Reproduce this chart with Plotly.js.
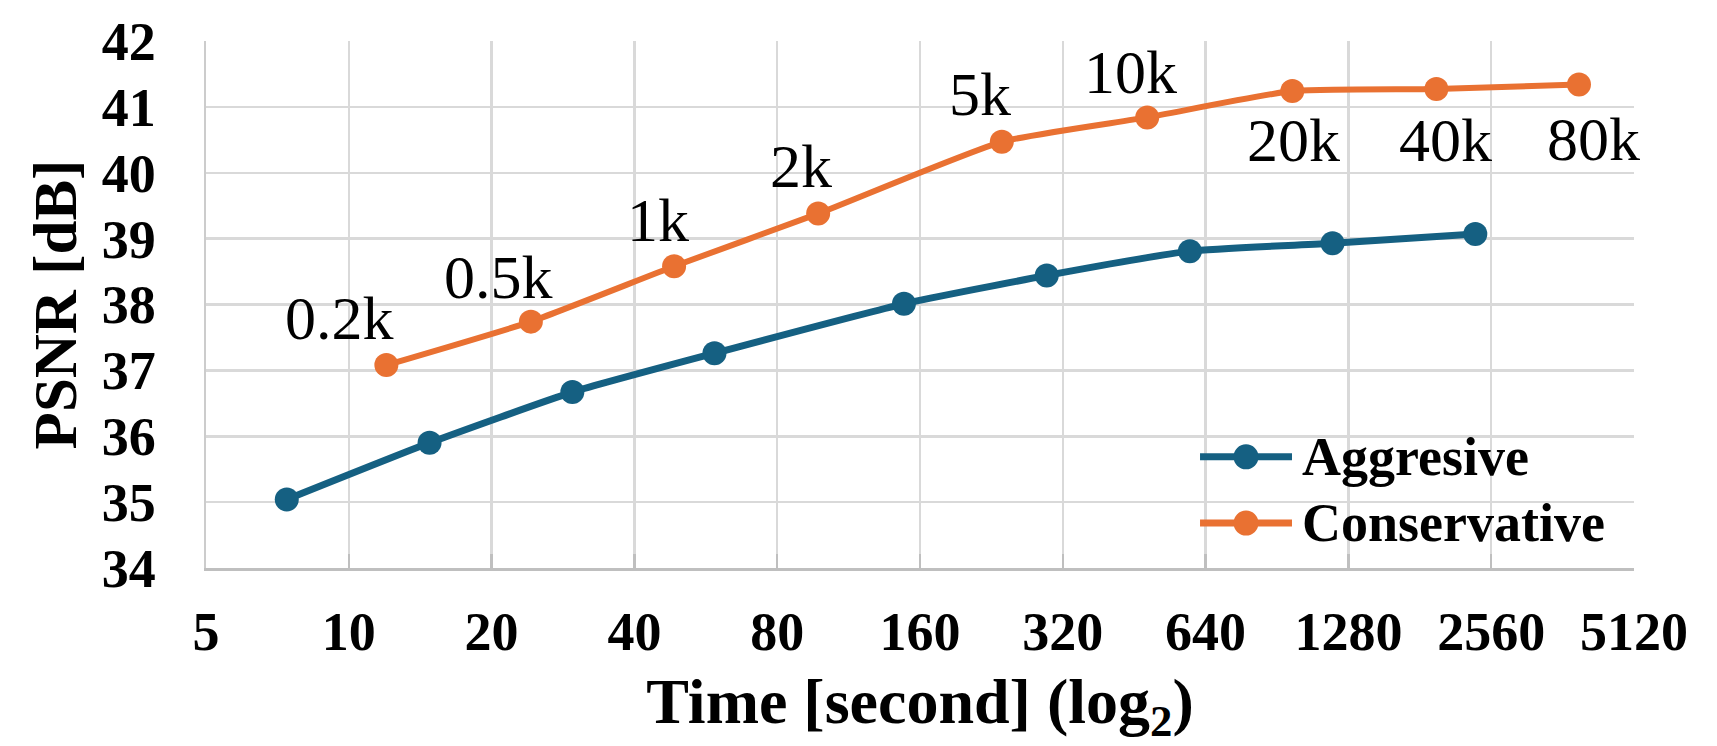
<!DOCTYPE html>
<html>
<head>
<meta charset="utf-8">
<script src="https://cdn.plot.ly/plotly-3.0.1.min.js"></script>
<style>
  html, body { margin: 0; padding: 0; background: #fff; }
  #chart { width: 1717px; height: 746px; }
</style>
</head>
<body>
<div id="chart"></div>
<script>
// values
const seriesNames = ["Aggresive", "Conservative"];

const aggTime = [7.4, 14.8, 29.6, 59, 148, 296, 593, 1185, 2370];
const aggPsnr = [35.04, 35.9, 36.67, 37.26, 38.01, 38.44, 38.81, 38.93, 39.07];

const consTime = [12, 24.2, 48.5, 97.6, 238, 482, 975, 1962, 3920];
const consPsnr = [37.08, 37.74, 38.58, 39.38, 40.47, 40.84, 41.24, 41.27, 41.34];
const consLabels = ["0.2k", "0.5k", "1k", "2k", "5k", "10k", "20k", "40k", "80k"];

const xTicks = [5, 10, 20, 40, 80, 160, 320, 640, 1280, 2560, 5120];

// label placement relative to each point, in pixels
const labelShiftX = [-47, -32, -16, -17, -22, -17, 1, 9, 15];
const labelShiftY = [47, 45, 46, 48, 48, 45, -49, -51, -55];

const BLUE = "#156082";
const ORANGE = "#E97132";
const COLORS = [BLUE, ORANGE];
const FONT = "Liberation Serif, Times New Roman, serif";

const data = [
  {
    x: aggTime,
    y: aggPsnr,
    name: seriesNames[0],
    type: "scatter",
    mode: "lines+markers",
    line: { color: BLUE, width: 7, shape: "spline", smoothing: 0.5 },
    marker: { color: BLUE, size: 24 },
  },
  {
    x: consTime,
    y: consPsnr,
    name: seriesNames[1],
    type: "scatter",
    mode: "lines+markers",
    line: { color: ORANGE, width: 6, shape: "spline", smoothing: 0.5 },
    marker: { color: ORANGE, size: 24 },
  },
];

const annotations = consLabels.map((t, i) => ({
  x: Math.log10(consTime[i]),
  y: consPsnr[i],
  xref: "x",
  yref: "y",
  text: t,
  showarrow: false,
  xshift: labelShiftX[i],
  yshift: labelShiftY[i],
  font: { family: FONT, size: 62, color: "#000" },
}));

// hand-drawn legend (plotly caps legend marker size)
const legRows = [0.211, 0.0853];
const shapes = [
  {
    type: "rect", xref: "paper", yref: "paper", layer: "between",
    x0: 0.6828, x1: 0.995, y0: 0.017, y1: 0.2665,
    fillcolor: "#fff", line: { width: 0 },
  },
];
seriesNames.forEach((name, i) => {
  shapes.push({
    type: "line", xref: "paper", yref: "paper",
    x0: 0.6961, x1: 0.7605, y0: legRows[i], y1: legRows[i],
    line: { color: COLORS[i], width: 7 },
  });
  shapes.push({
    type: "circle", xref: "paper", yref: "paper",
    xsizemode: "pixel", ysizemode: "pixel",
    xanchor: 0.7283, yanchor: legRows[i],
    x0: -12.5, x1: 12.5, y0: -12.5, y1: 12.5,
    fillcolor: COLORS[i], line: { width: 0 },
  });
  annotations.push({
    x: 0.766, y: legRows[i], xref: "paper", yref: "paper",
    xanchor: "left", yanchor: "middle",
    text: "<b>" + name + "</b>", showarrow: false,
    font: { family: FONT, size: 54, color: "#000" },
  });
});

const layout = {
  width: 1717,
  height: 746,
  margin: { l: 206, r: 83, t: 41, b: 178 },
  paper_bgcolor: "#fff",
  plot_bgcolor: "#fff",
  font: { family: FONT, color: "#000" },
  showlegend: false,
  xaxis: {
    type: "log",
    range: [Math.log10(5), Math.log10(5120)],
    tickvals: xTicks,
    ticktext: xTicks.map(String),
    tickfont: { family: FONT, size: 54, color: "#000", weight: "bold" },
    ticks: "inside",
    ticklen: 14,
    tickwidth: 2.5,
    tickcolor: "#BFBFBF",
    ticklabelstandoff: 14,
    showgrid: true,
    gridcolor: "#D9D9D9",
    gridwidth: 2.5,
    showline: true,
    linecolor: "#BFBFBF",
    linewidth: 3,
    zeroline: false,
    fixedrange: true,
    title: {
      text: "Time [second] (log<sub>2</sub>)",
      font: { family: FONT, size: 64, color: "#000", weight: "bold" },
      standoff: 36,
    },
  },
  yaxis: {
    range: [34, 42],
    dtick: 1,
    tickfont: { family: FONT, size: 54, color: "#000", weight: "bold" },
    ticks: "",
    ticklabelstandoff: 37,
    showgrid: true,
    gridcolor: "#D9D9D9",
    gridwidth: 2.5,
    showline: true,
    linecolor: "#CCCCCC",
    linewidth: 2.5,
    zeroline: false,
    fixedrange: true,
    title: {
      text: "PSNR [dB]",
      font: { family: FONT, size: 61, color: "#000", weight: "bold" },
      standoff: 6,
    },
  },
  shapes: shapes,
  annotations: annotations,
};

Plotly.newPlot("chart", data, layout, { displayModeBar: false, staticPlot: true });
</script>
</body>
</html>
